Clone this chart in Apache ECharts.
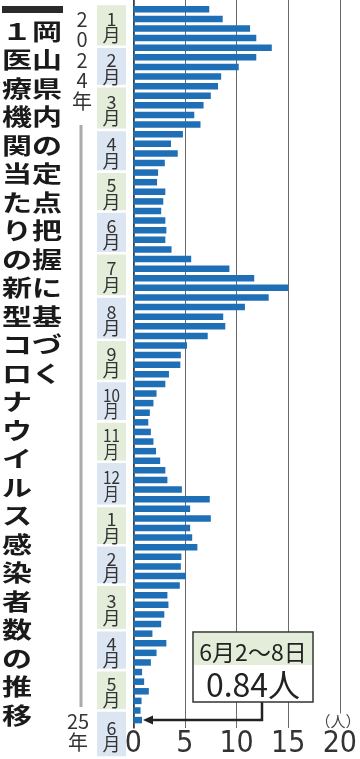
<!DOCTYPE html>
<html><head><meta charset="utf-8">
<script src="https://cdn.jsdelivr.net/npm/echarts@6/dist/echarts.min.js"></script>
<style>html,body{margin:0;padding:0;background:#fff}#c{width:360px;height:759px}</style>
</head><body><div id="c"></div>
<script>
// Weekly values (persons per sentinel medical institution), Okayama
const values2024 = [7.35, 8.65, 11.3, 11.9, 13.4, 11.9, 10.2, 8.5, 8.2, 7.5, 6.8, 5.9, 6.5,
  4.8, 3.65, 4.3, 3.05, 2.4, 2.3, 3.1, 2.9, 2.7, 3.1, 3.2, 3.1, 3.7,
  5.6, 9.3, 11.7, 15.0, 13.1, 10.8, 8.7, 8.9, 7.2, 5.2, 4.6, 4.55, 3.45,
  3.1, 2.25, 1.95, 1.6, 1.45, 1.7, 1.95, 2.2, 2.6, 3.1, 3.3, 4.7, 7.4];
const values2025 = [5.5, 7.5, 5.5, 5.7, 6.2, 4.65, 4.6, 5.1, 4.5, 3.3, 3.4, 3.0, 2.7,
  1.85, 3.2, 2.25, 1.7, 0.85, 1.05, 1.5, 0.8, 0.7, 0.84];
const monthLabels = ['1','2','3','4','5','6','7','8','9','10','11','12','1','2','3','4','5','6'];
// month band edges, in week-index units
const monthEdges = [-0.55, 3.9, 8.0, 12.55, 16.9, 21.05, 25.4, 29.9, 34.4, 38.7, 42.9, 47.1,
  51.7, 55.8, 59.9, 64.65, 68.8, 73.0, 77.9];
const xTicks = [0, 5, 10, 15, 20];
const titleRight = '岡山県内の定点把握に基づく';
const titleLeft = '１医療機関当たりの新型コロナウイルス感染者数の推移';
const yearStart = '2024年';
const yearEnd = '25年';
const noteDate = '6月2～8日';
const noteValue = '0.84人';
const unitLabel = '（人）';

const values = values2024.concat(values2025);
const weeks = values.map((_, i) => 'w' + i);
const monthData = monthLabels.map((m, i) => [monthEdges[i], monthEdges[i + 1], Number(m)]);
const lastIdx = values.length - 1;

const CJK = '"Noto Sans CJK JP", sans-serif';
const NARROW = '"Liberation Sans Narrow", "DejaVu Sans Condensed", "Roboto", sans-serif';
const GL = 133.3, GR = 20;

const chart = echarts.init(document.getElementById('c'), null, { renderer: 'canvas' });
const option = {
  animation: false,
  backgroundColor: '#fff',
  grid: [
    { left: GL, right: GR, top: 0, bottom: 27 },
    { left: GL, right: GR, top: 4.5, bottom: 34.1 }
  ],
  xAxis: [
    { gridIndex: 0, type: 'value', min: xTicks[0], max: xTicks[xTicks.length - 1], interval: 5,
      axisLine: { show: false }, axisTick: { show: false },
      splitLine: { show: true, lineStyle: { color: '#6a6a6a', width: 1 } },
      axisLabel: { color: '#333', fontSize: 30, fontFamily: NARROW, margin: 1 } },
    { gridIndex: 1, type: 'value', min: 0, max: 20, show: false }
  ],
  yAxis: [
    { gridIndex: 0, type: 'value', min: 0, max: 1, axisLabel: { show: false }, axisTick: { show: false },
      splitLine: { show: false }, axisLine: { show: true, lineStyle: { color: '#333', width: 1.5 } } },
    { gridIndex: 1, type: 'category', data: weeks, inverse: true, show: false },
    { gridIndex: 1, type: 'value', inverse: true, min: -0.5, max: 74.5, show: false }
  ],
  series: [
    { type: 'bar', xAxisIndex: 1, yAxisIndex: 1, data: values, barWidth: 6.5,
      itemStyle: { color: '#1f6fb6' }, z: 3 },
    { type: 'custom', xAxisIndex: 1, yAxisIndex: 2, clip: false, data: monthData, z: 1,
      renderItem: function (params, api) {
        const y0 = api.coord([0, api.value(0)])[1];
        const y1 = api.coord([0, api.value(1)])[1];
        const m = api.value(2);
        const top = y0 + 1.3, bot = y1 - 1.3;
        return { type: 'group', children: [
          { type: 'rect', shape: { x: 97, y: top, width: 29, height: bot - top },
            style: { fill: m % 2 ? '#e3edda' : '#dce5f2' } },
          { type: 'text', x: 111.5, y: (top + bot) / 2 + 2, scaleX: m >= 10 ? 0.85 : 1,
            style: { text: m + '\n月', fill: '#333', font: '18px ' + CJK, lineHeight: 16.5,
              align: 'center', verticalAlign: 'middle' } }
        ] };
      } }
  ]
};
chart.setOption(option);

const tip = chart.convertToPixel({ gridIndex: 1 }, [values[lastIdx], lastIdx]);
const vert = s => s.split('').join('\n');
const boxL = 193, boxR = 313, boxT = 632, boxB = 702, boxMid = 665, stemX = 262;
chart.setOption({
  graphic: [
    { type: 'rect', shape: { x: 2, y: 6, width: 61, height: 7 }, style: { fill: '#2a2a2a' } },
    { type: 'text', x: 47, y: 17, scaleY: 0.75,
      style: { text: vert(titleRight), font: 'bold 30px ' + CJK, lineHeight: 38, align: 'center',
        verticalAlign: 'top', fill: '#1a1a1a' } },
    { type: 'text', x: 17, y: 17, scaleY: 0.75,
      style: { text: vert(titleLeft), font: 'bold 30px ' + CJK, lineHeight: 38, align: 'center',
        verticalAlign: 'top', fill: '#1a1a1a' } },
    { type: 'text', x: 82, y: 9,
      style: { text: vert(yearStart), font: '20px ' + CJK, lineHeight: 20.5, align: 'center',
        verticalAlign: 'top', fill: '#333' } },
    { type: 'line', shape: { x1: 81, y1: 125, x2: 81, y2: 707 }, style: { stroke: '#aaa', lineWidth: 3 } },
    { type: 'text', x: 78, y: 711,
      style: { text: yearEnd.slice(0, 2) + '\n' + yearEnd.slice(2), font: '20px ' + CJK, lineHeight: 21,
        align: 'center', verticalAlign: 'top', fill: '#333' } },
    { type: 'text', x: 338, y: 721,
      style: { text: unitLabel, font: '15px ' + CJK, align: 'center', verticalAlign: 'middle',
        fill: '#444', backgroundColor: '#fff', padding: [0, 0] } },
    { type: 'polyline', shape: { points: [[stemX, boxB], [stemX, tip[1]], [tip[0] + 8, tip[1]]] },
      style: { stroke: '#222', lineWidth: 2.5, fill: null }, z: 10 },
    { type: 'polygon', shape: { points: [[tip[0] + 1, tip[1]], [tip[0] + 11, tip[1] - 4.5], [tip[0] + 11, tip[1] + 4.5]] },
      style: { fill: '#222' }, z: 10 },
    { type: 'rect', shape: { x: boxL, y: boxT, width: boxR - boxL, height: boxB - boxT },
      style: { fill: '#fff', stroke: '#333', lineWidth: 1.5 }, z: 10 },
    { type: 'rect', shape: { x: boxL + 1, y: boxT + 1, width: boxR - boxL - 2, height: boxMid - boxT - 1 },
      style: { fill: '#e3edda' }, z: 11 },
    { type: 'text', x: (boxL + boxR) / 2, y: 652,
      style: { text: noteDate, font: '23px ' + CJK, align: 'center', verticalAlign: 'middle', fill: '#222' }, z: 12 },
    { type: 'text', x: (boxL + boxR) / 2, y: 685,
      style: { text: noteValue, font: '32px ' + CJK, align: 'center', verticalAlign: 'middle', fill: '#222' }, z: 12 }
  ]
});
</script></body></html>
